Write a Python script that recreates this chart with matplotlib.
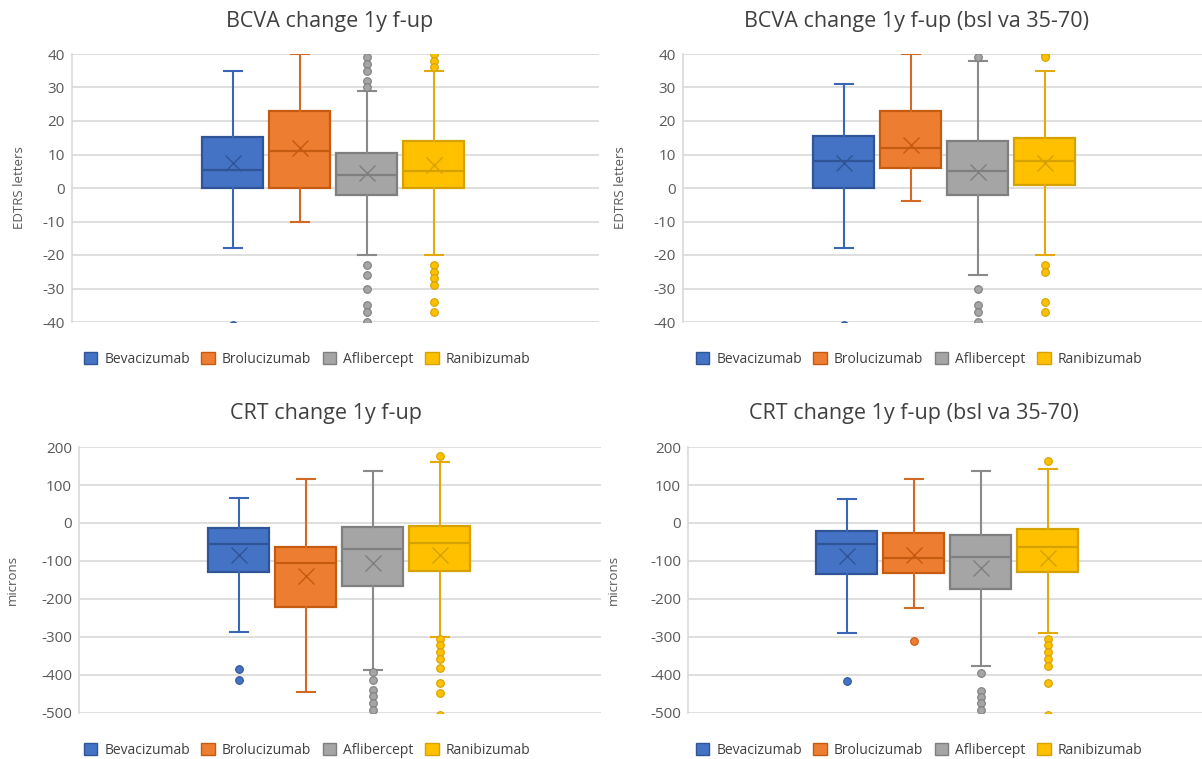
import matplotlib
matplotlib.use("Agg")
import matplotlib.pyplot as plt
from matplotlib.patches import Patch

plt.rcParams['font.family'] = ['Open Sans', 'DejaVu Sans']
plt.rcParams['axes.unicode_minus'] = False

names = ["Bevacizumab", "Brolucizumab", "Aflibercept", "Ranibizumab"]

# BCVA change 1y f-up
bcva_q1 = [0, 0, -2, 0]
bcva_med = [5.5, 11, 4, 5]
bcva_q3 = [15.3, 23, 10.5, 14]
bcva_lo = [-18, -10, -20, -20]
bcva_hi = [35, 40, 29, 35]
bcva_mean = [7.6, 12, 4.5, 7]
bcva_fliers = [[-41], [],
               [39, 37, 35, 32, 30, -23, -26, -30, -35, -37, -40],
               [40, 38, 36, -23, -25, -27, -29, -34, -37]]

# BCVA change 1y f-up (bsl va 35-70)
bcvab_q1 = [0, 6, -2, 1]
bcvab_med = [8, 12, 5, 8]
bcvab_q3 = [15.5, 23, 14, 15]
bcvab_lo = [-18, -4, -26, -20]
bcvab_hi = [31, 40, 38, 35]
bcvab_mean = [7.6, 12.7, 4.8, 7.6]
bcvab_fliers = [[-41], [], [39, -30, -35, -37, -40], [40, 39, -23, -25, -34, -37]]

# CRT change 1y f-up
crt_q1 = [-129, -222, -165, -126]
crt_med = [-56, -106, -69, -52]
crt_q3 = [-13, -62, -11, -9]
crt_lo = [-287, -446, -388, -300]
crt_hi = [65, 116, 136, 160]
crt_mean = [-84, -139, -104, -84]
crt_fliers = [[-383, -414], [],
              [-393, -412, -440, -456, -473, -493],
              [177, -306, -320, -339, -357, -381, -420, -447, -504]]

# CRT change 1y f-up (bsl va 35-70)
crtb_q1 = [-134, -131, -174, -129]
crtb_med = [-55, -93, -89, -64]
crtb_q3 = [-22, -27, -32, -17]
crtb_lo = [-289, -224, -377, -290]
crtb_hi = [64, 116, 136, 143]
crtb_mean = [-87, -84, -119, -91]
crtb_fliers = [[-416], [-310],
               [-395, -442, -457, -474, -492],
               [162, -305, -322, -339, -357, -375, -420, -504]]

fills = ['#4472C4', '#ED7D31', '#A5A5A5', '#FFC000']
edges = ['#2F5597', '#C55A11', '#7F7F7F', '#D6A200']
whisk = ['#3A66B8', '#D26A25', '#8A8A8A', '#E3AA10']

W, H = 1202, 759
fig = plt.figure(figsize=(W / 100, H / 100), dpi=100)

def px_axes(x0, x1, y0, y1):
    return fig.add_axes([x0 / W, 1 - y1 / H, (x1 - x0) / W, (y1 - y0) / H])

def draw(ax, q1, med, q3, lo, hi, mean, fliers, ylim, step, ylabel, center_px, width_px):
    for i in range(4):
        st = [dict(med=med[i], q1=q1[i], q3=q3[i], whislo=lo[i], whishi=hi[i],
                   mean=mean[i], fliers=fliers[i])]
        pos = center_px + (i - 1.5) * 67
        ax.bxp(st, positions=[pos], widths=61, capwidths=18, patch_artist=True,
               showmeans=True,
               boxprops=dict(facecolor=fills[i], edgecolor=edges[i], linewidth=1.6),
               medianprops=dict(color=edges[i], linewidth=1.6),
               whiskerprops=dict(color=whisk[i], linewidth=1.5),
               capprops=dict(color=whisk[i], linewidth=1.5),
               meanprops=dict(marker='x', markersize=11, markeredgecolor=edges[i],
                              markeredgewidth=1.0),
               flierprops=dict(marker='o', markersize=5.5, markerfacecolor=fills[i],
                               markeredgecolor=edges[i], markeredgewidth=0.8))
    ax.set_xlim(0, width_px)
    ax.set_ylim(*ylim)
    ax.set_yticks(list(range(ylim[0], ylim[1] + 1, step)))
    ax.set_xticks([])
    ax.grid(axis='y', color='#D9D9D9', linewidth=1.2)
    ax.set_axisbelow(True)
    for s in ['top', 'right', 'bottom']:
        ax.spines[s].set_visible(False)
    ax.spines['left'].set_color('#D9D9D9')
    ax.spines['left'].set_linewidth(1.2)
    ax.tick_params(axis='y', length=0, pad=5, labelsize=11, labelcolor='#595959')
    ax.set_ylabel(ylabel, fontsize=9.5, color='#595959')

# top-left
ax1 = px_axes(72, 599, 54, 322)
draw(ax1, bcva_q1, bcva_med, bcva_q3, bcva_lo, bcva_hi, bcva_mean, bcva_fliers,
     (-40, 40), 10, 'EDTRS letters', 333 - 72, 599 - 72)
ax1.yaxis.set_label_coords(-46 / 527, 0.5)
# top-right
ax2 = px_axes(683, 1202, 54, 322)
draw(ax2, bcvab_q1, bcvab_med, bcvab_q3, bcvab_lo, bcvab_hi, bcvab_mean, bcvab_fliers,
     (-40, 40), 10, 'EDTRS letters', 944 - 683, 1202 - 683)
ax2.yaxis.set_label_coords(-56 / 519, 0.5)
# bottom-left
ax3 = px_axes(79, 601, 447, 713)
draw(ax3, crt_q1, crt_med, crt_q3, crt_lo, crt_hi, crt_mean, crt_fliers,
     (-500, 200), 100, 'microns', 339 - 79, 601 - 79)
ax3.yaxis.set_label_coords(-60 / 522, 0.5)
# bottom-right
ax4 = px_axes(688, 1202, 447, 713)
draw(ax4, crtb_q1, crtb_med, crtb_q3, crtb_lo, crtb_hi, crtb_mean, crtb_fliers,
     (-500, 200), 100, 'microns', 947 - 688, 1202 - 688)
ax4.yaxis.set_label_coords(-68 / 514, 0.5)

titles = [("BCVA change 1y f-up", 330, 22),
          ("BCVA change 1y f-up (bsl va 35-70)", 916, 22),
          ("CRT change 1y f-up", 326, 414),
          ("CRT change 1y f-up (bsl va 35-70)", 914, 414)]
for t, x, y in titles:
    fig.text(x / W, 1 - y / H, t, ha='center', va='center', fontsize=15.5, color='#404040')

handles = [Patch(facecolor=fills[i], edgecolor=edges[i], linewidth=1.0) for i in range(4)]
for cx, cy in [(307, 359), (919, 359), (307, 750), (919, 750)]:
    fig.legend(handles, names, loc='center', bbox_to_anchor=(cx / W, 1 - cy / H),
               ncol=4, frameon=False, fontsize=10, handlelength=1.0, handleheight=1.0,
               handletextpad=0.5, columnspacing=0.8, labelcolor='#404040')

fig.savefig('out.png', dpi=100)
